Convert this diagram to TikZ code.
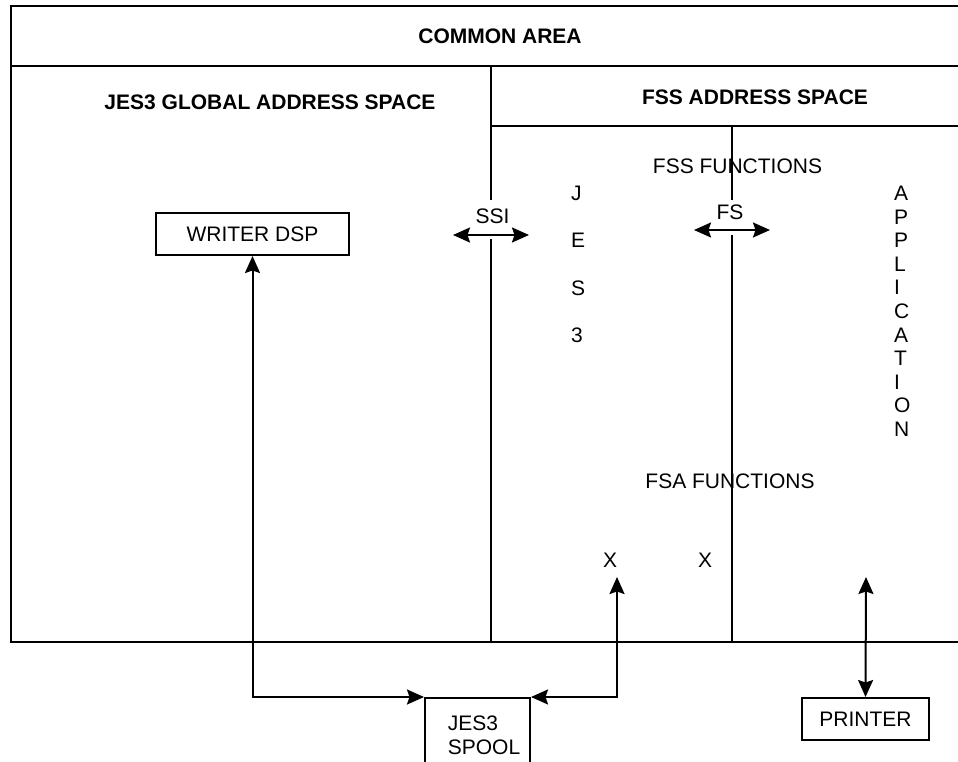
\documentclass[tikz,border=0pt]{standalone}
\usepackage{fontspec}
\setmainfont{Liberation Sans}
\usetikzlibrary{arrows.meta}
\begin{document}
\begin{tikzpicture}[x=1pt,y=-1pt,line width=2pt,
  arr/.style={{Stealth[length=17pt,width=15pt,inset=2.5pt]}-{Stealth[length=17pt,width=15pt,inset=2.5pt]}},
  lbl/.style={inner sep=0pt,font=\fontsize{21pt}{25pt}\selectfont},
  ttl/.style={inner sep=0pt,font=\fontsize{21pt}{25pt}\selectfont\bfseries},
  box/.style={draw,line width=2pt,inner sep=0pt,font=\fontsize{21pt}{24pt}\selectfont}]
\useasboundingbox (0,0) rectangle (958,762);
\clip (0,0) rectangle (958,762);
% frame
\draw (958,6) -- (11,6) -- (11,642) -- (958,642);
\draw (11,66) -- (958,66);
\draw (491,126) -- (958,126);
\draw (491,66) -- (491,200);
\draw (491,239) -- (491,642);
\draw (732,126) -- (732,200);
\draw (732,235) -- (732,642);
% titles
\node[ttl] (common) at (500,36) {COMMON AREA};
\node[ttl] (jglobal) at (270,102) {JES3 GLOBAL ADDRESS SPACE};
\node[ttl] (fssas) at (755,97) {FSS ADDRESS SPACE};
% boxes
\node[box,minimum width=193pt,minimum height=42pt] (writer) at (252.5,234) {WRITER DSP};
\node[box,minimum width=127pt,minimum height=42pt] (printer) at (865.5,719) {PRINTER};
\node[box,minimum width=105pt,minimum height=74pt,anchor=north,align=left] (spool) at (477.5,697) {\hspace*{13pt}JES3\\\hspace*{13pt}SPOOL};
% labels
\node[lbl] (ssi) at (492.5,216) {SSI};
\node[lbl] (fs) at (730,212) {FS};
\node[lbl] (fssf) at (737.5,166) {FSS FUNCTIONS};
\node[lbl] (fsaf) at (730,481) {FSA FUNCTIONS};
\node[lbl] (x1) at (610,560) {X};
\node[lbl] (x2) at (705,560) {X};
\node[lbl,align=left,anchor=north west,font=\fontsize{21pt}{47.3pt}\selectfont] (jes) at (570,185) {J\\E\\S\\3};
\node[lbl,align=left,anchor=north west,font=\fontsize{21pt}{23.6pt}\selectfont] (appl) at (893,185) {A\\P\\P\\L\\I\\C\\A\\T\\I\\O\\N};
% connectors
\coordinate (ssiL) at (453,235);
\coordinate (ssiR) at (529,235);
\coordinate (fsL) at (694,230);
\coordinate (fsR) at (770,230);
\coordinate (xa) at (617,577);
\coordinate (pa) at (866,577);
\draw[arr] (ssiL) -- (ssiR);
\draw[arr] (fsL) -- (fsR);
\draw[arr] (writer.south) |- (spool.north west);
\draw[arr] (spool.north east) -| (xa);
\draw[arr] (pa) -- (printer.north);
\end{tikzpicture}
\end{document}
